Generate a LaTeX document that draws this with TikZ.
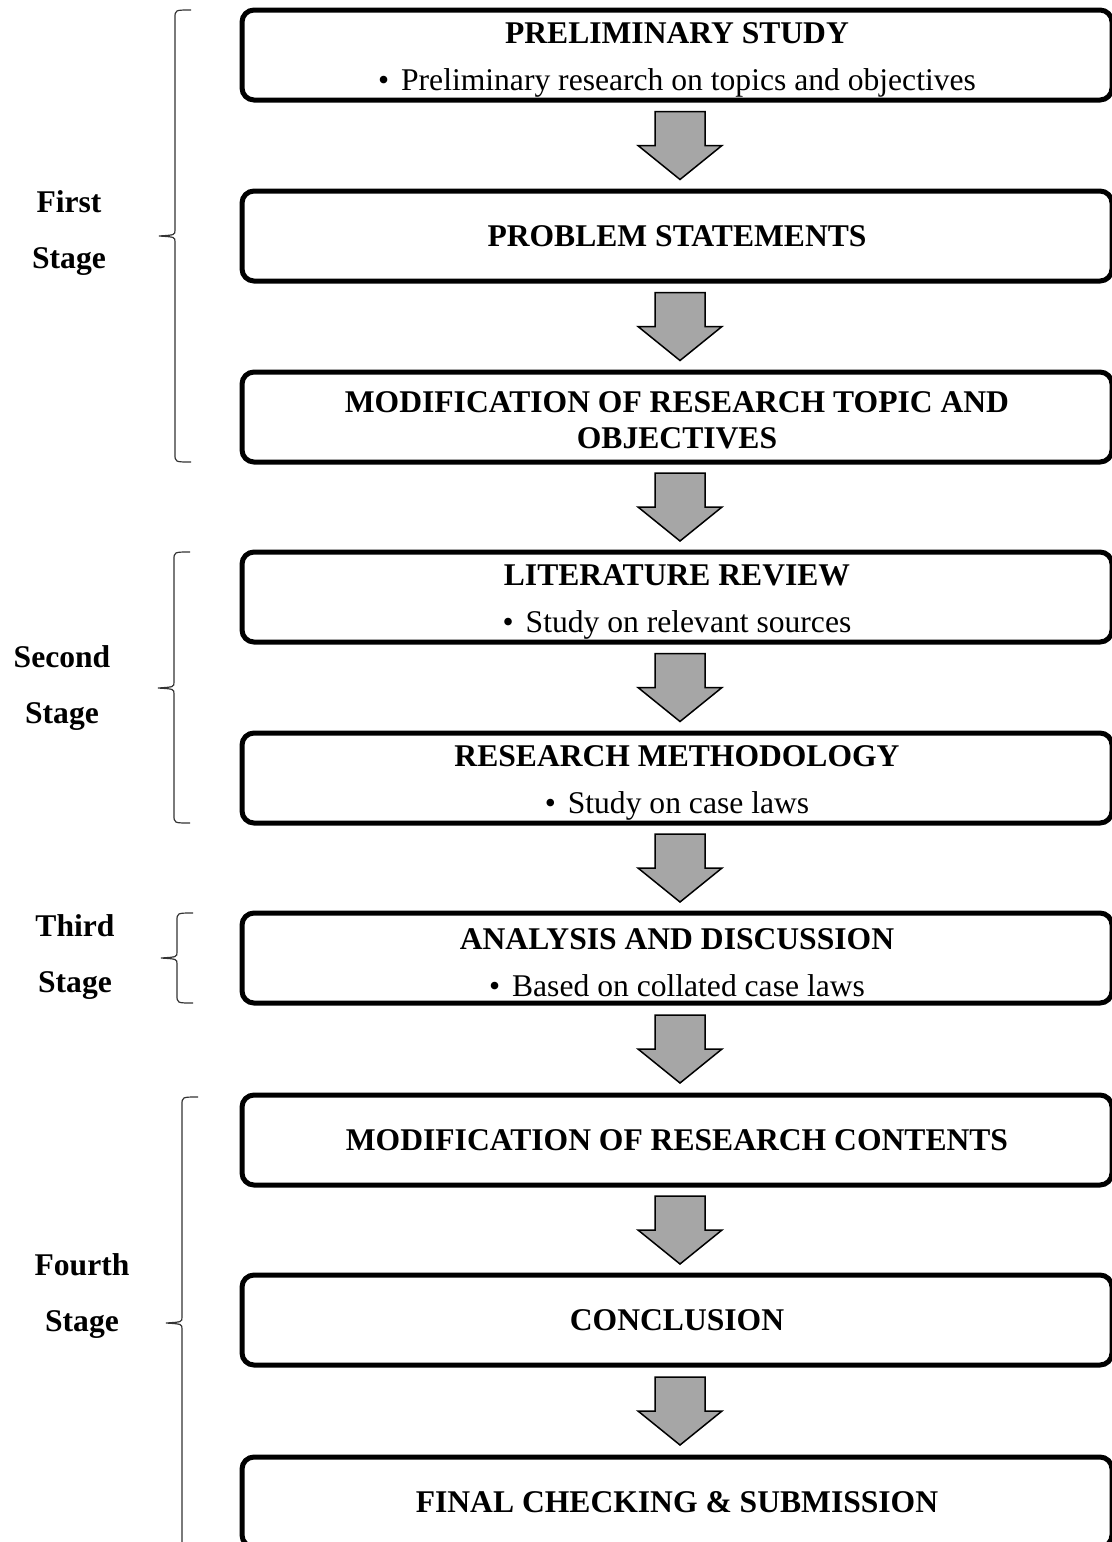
\documentclass[tikz,border=0pt]{standalone}
\usepackage{fontspec}
\setmainfont{Liberation Serif}
\usetikzlibrary{calc}

\definecolor{arrowgray}{RGB}{166,166,166}

% x = bar position, then top, tip and bottom of the brace
\newcommand\stagebrace[4]{%
  \draw[bracestyle] (#1+16,#2) .. controls (#1,#2) .. (#1,#2+8) -- (#1,#3-6)
    .. controls (#1,#3-1) .. (#1-16,#3) .. controls (#1,#3+1) .. (#1,#3+6)
    -- (#1,#4-8) .. controls (#1,#4) .. (#1+16,#4);
}
% fat arrow half way between two boxes
\newcommand\steparrow[2]{%
  \draw[blockarrow] ($(#1.south)!0.5!(#2.north)$) ++(-22,-34) -- ++(50,0) -- ++(0,34)
    -- ++(17,0) -- ++(-42,34) -- ++(-42,-34) -- ++(17,0) -- cycle;
}
\newcommand\pt{\hspace{6pt}}
\newcommand\lowstrut{\rule{0pt}{15.5pt}}

\tikzset{
  stepbox/.style={draw, line width=2.5pt, rounded corners=6pt, minimum width=435pt,
    minimum height=45pt, align=center, inner sep=0pt,
    font=\fontsize{15.8}{18}\selectfont},
  blockarrow/.style={draw, fill=arrowgray, line width=0.75pt, line join=miter},
  stagelabel/.style={align=center, font=\fontsize{15.8}{28}\selectfont\bfseries},
  bracestyle/.style={line width=0.6pt, black!80}
}

\begin{document}
\begin{tikzpicture}[x=0.5pt,y=-0.5pt]
  \useasboundingbox (0,0) rectangle (1112,1542);

  \node[stepbox] (prelim) at (677,55) {\lowstrut\textbf{PRELIMINARY STUDY}\\[5.5pt]\textbullet\pt Preliminary research on topics and objectives};
  \node[stepbox] (problem) at (677,236) {\textbf{PROBLEM STATEMENTS}};
  \node[stepbox] (modtopic) at (677,417) {\rule{0pt}{13.5pt}\textbf{MODIFICATION OF RESEARCH TOPIC AND}\\\textbf{OBJECTIVES}};
  \node[stepbox] (litreview) at (677,597) {\lowstrut\textbf{LITERATURE REVIEW}\\[5.5pt]\textbullet\pt Study on relevant sources};
  \node[stepbox] (method) at (677,778) {\lowstrut\textbf{RESEARCH METHODOLOGY}\\[5.5pt]\textbullet\pt Study on case laws};
  \node[stepbox] (analysis) at (677,958) {\lowstrut\textbf{ANALYSIS AND DISCUSSION}\\[5.5pt]\textbullet\pt Based on collated case laws};
  \node[stepbox] (modcontent) at (677,1140) {\textbf{MODIFICATION OF RESEARCH CONTENTS}};
  \node[stepbox] (conclusion) at (677,1320) {\textbf{CONCLUSION}};
  \node[stepbox] (final) at (677,1502) {\textbf{FINAL CHECKING \& SUBMISSION}};

  \steparrow{prelim}{problem}
  \steparrow{problem}{modtopic}
  \steparrow{modtopic}{litreview}
  \steparrow{litreview}{method}
  \steparrow{method}{analysis}
  \steparrow{analysis}{modcontent}
  \steparrow{modcontent}{conclusion}
  \steparrow{conclusion}{final}

  \node[stagelabel] (first) at (69,233) {First\\Stage};
  \node[stagelabel] (second) at (62,688) {Second\\Stage};
  \node[stagelabel] (third) at (75,957) {Third\\Stage};
  \node[stagelabel] (fourth) at (82,1296) {Fourth\\Stage};

  \stagebrace{175}{10}{236}{462}
  \stagebrace{174}{552}{688}{823}
  \stagebrace{177}{913}{958}{1003}
  \stagebrace{182}{1097}{1323}{1549}
\end{tikzpicture}
\end{document}
